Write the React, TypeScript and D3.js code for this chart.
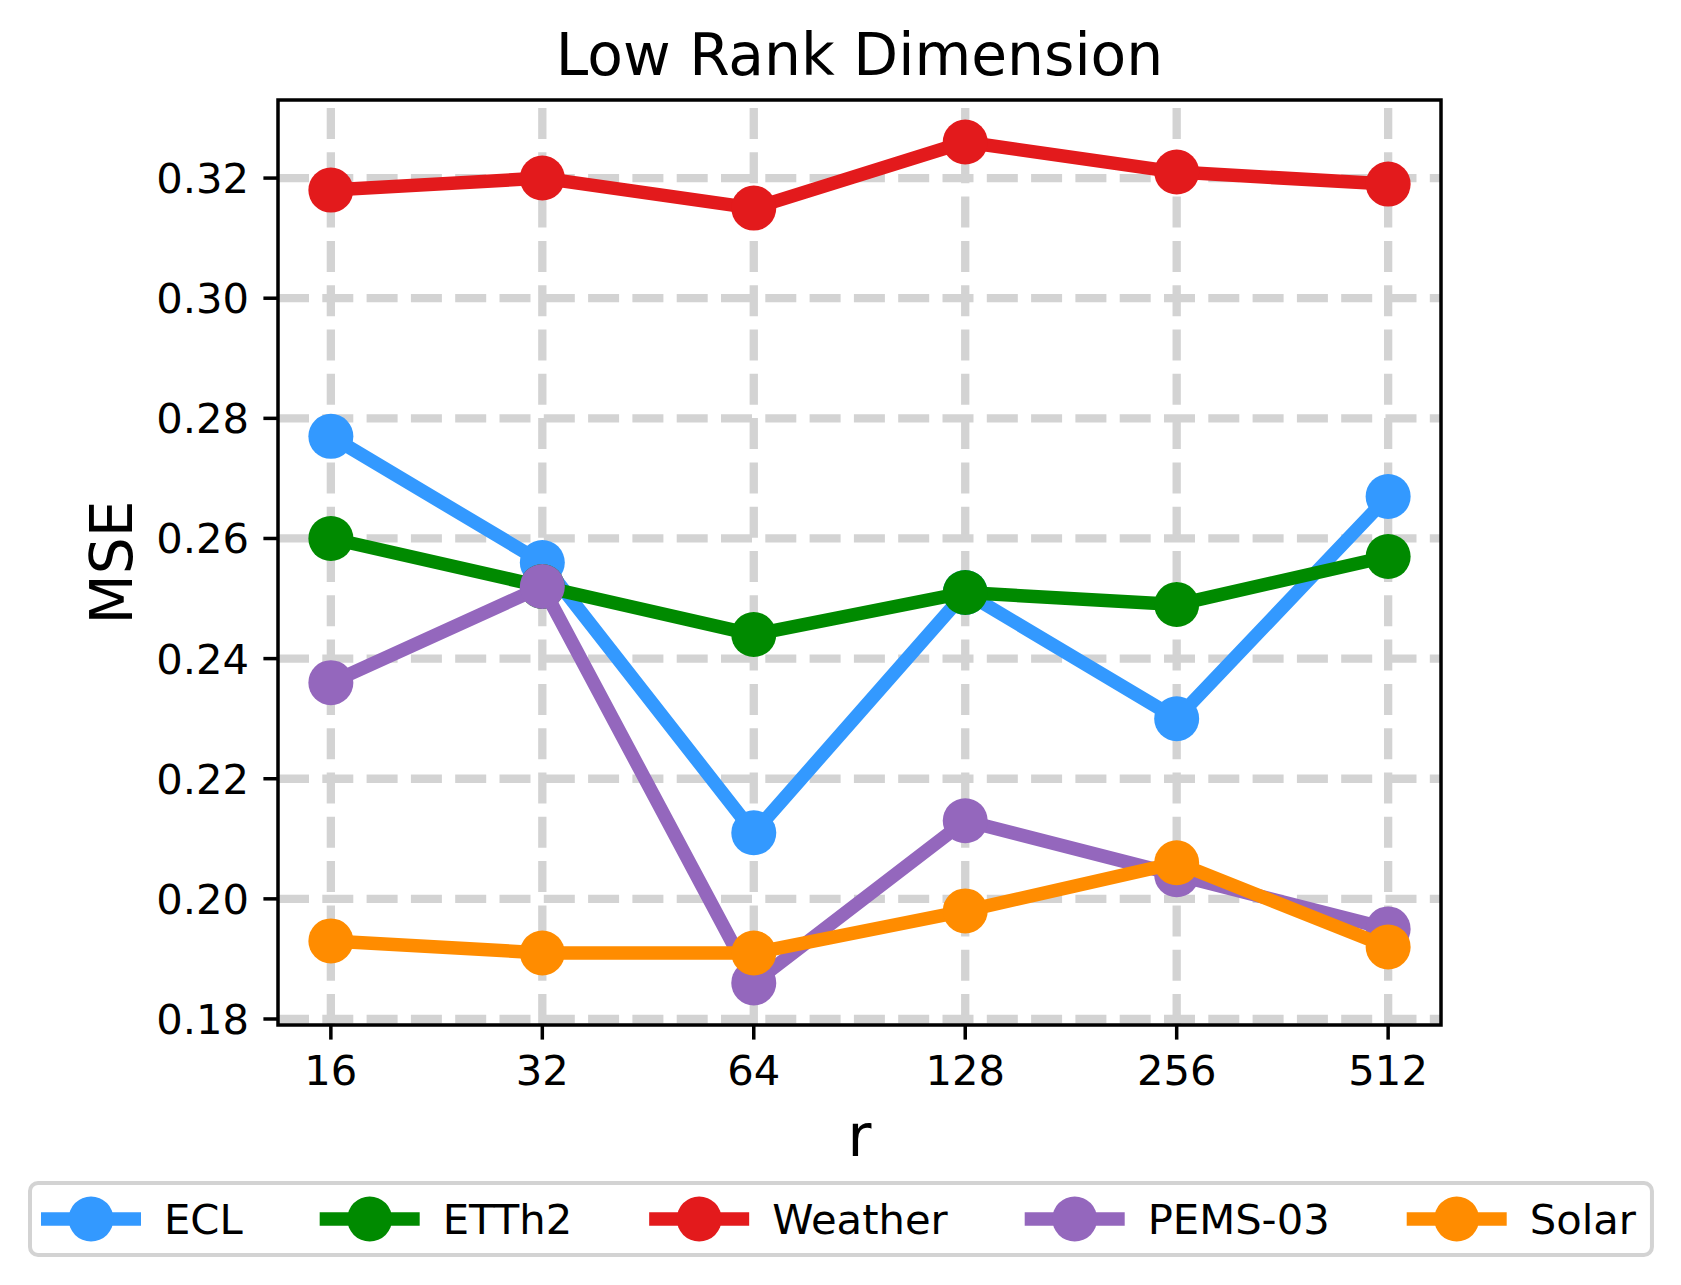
import { useRef, useEffect } from 'react';
import * as d3 from 'd3';

const W = 1681;
const H = 1285;

const rValues = ['16', '32', '64', '128', '256', '512'];
const yTicks = [0.18, 0.2, 0.22, 0.24, 0.26, 0.28, 0.3, 0.32];

const seriesNames = ['ECL', 'ETTh2', 'Weather', 'PEMS-03', 'Solar'];
const seriesColors = ['#3399ff', '#008a00', '#e31a1c', '#9467bd', '#ff8c00'];

const ecl = [0.277, 0.256, 0.211, 0.251, 0.23, 0.267];
const etth2 = [0.26, 0.252, 0.244, 0.251, 0.249, 0.257];
const weather = [0.318, 0.32, 0.315, 0.326, 0.321, 0.319];
const pems03 = [0.236, 0.252, 0.186, 0.213, 0.204, 0.195];
const solar = [0.193, 0.191, 0.191, 0.198, 0.206, 0.192];

const seriesValues = [ecl, etth2, weather, pems03, solar];

const FONT = 'DejaVu Sans, sans-serif';

export default function App() {
  const svgRef = useRef<SVGSVGElement>(null);

  useEffect(() => {
    if (!svgRef.current) return;
    const svg = d3.select(svgRef.current);
    svg.selectAll('*').remove();

    const left = 278;
    const right = 1441;
    const top = 100;
    const bottom = 1025;

    // matplotlib-style 5% margins
    const x = d3.scaleLinear().domain([-0.25, rValues.length - 1 + 0.25]).range([left, right]);
    const y = d3.scaleLinear().domain([0.179, 0.333]).range([bottom, top]);

    svg.append('rect').attr('width', W).attr('height', H).attr('fill', '#ffffff');

    // grid
    const grid = svg.append('g');
    rValues.forEach((_, i) => {
      grid.append('line')
        .attr('x1', x(i)).attr('x2', x(i))
        .attr('y1', bottom).attr('y2', top)
        .attr('stroke', '#d3d3d3').attr('stroke-width', 8.3)
        .attr('stroke-dasharray', '31,13.3');
    });
    yTicks.forEach((t) => {
      grid.append('line')
        .attr('x1', left).attr('x2', right)
        .attr('y1', y(t)).attr('y2', y(t))
        .attr('stroke', '#d3d3d3').attr('stroke-width', 8.3)
        .attr('stroke-dasharray', '31,13.3');
    });

    // series
    const line = d3.line<number>()
      .x((_, i) => x(i))
      .y((d) => y(d));

    const plot = svg.append('g');
    seriesValues.forEach((vals, s) => {
      const g = plot.append('g');
      g.append('path')
        .attr('d', line(vals))
        .attr('fill', 'none')
        .attr('stroke', seriesColors[s])
        .attr('stroke-width', 13.5)
        .attr('stroke-linejoin', 'round');
      g.selectAll('circle')
        .data(vals)
        .join('circle')
        .attr('cx', (_, i) => x(i))
        .attr('cy', (d) => y(d))
        .attr('r', 22.5)
        .attr('fill', seriesColors[s]);
    });

    // axes frame
    svg.append('rect')
      .attr('x', left).attr('y', top)
      .attr('width', right - left).attr('height', bottom - top)
      .attr('fill', 'none').attr('stroke', '#000').attr('stroke-width', 3.5);

    // ticks
    const ticks = svg.append('g').attr('font-family', FONT).attr('font-size', 41.7).attr('fill', '#000');
    rValues.forEach((lab, i) => {
      ticks.append('line')
        .attr('x1', x(i)).attr('x2', x(i))
        .attr('y1', bottom).attr('y2', bottom + 14.6)
        .attr('stroke', '#000').attr('stroke-width', 3.5);
      ticks.append('text')
        .attr('x', x(i)).attr('y', 1085)
        .attr('text-anchor', 'middle')
        .text(lab);
    });
    yTicks.forEach((t) => {
      ticks.append('line')
        .attr('x1', left - 14.6).attr('x2', left)
        .attr('y1', y(t)).attr('y2', y(t))
        .attr('stroke', '#000').attr('stroke-width', 3.5);
      ticks.append('text')
        .attr('x', left - 29).attr('y', y(t))
        .attr('dy', '0.36em')
        .attr('text-anchor', 'end')
        .text(d3.format('.2f')(t));
    });

    // title and labels
    svg.append('text')
      .attr('x', (left + right) / 2).attr('y', 75)
      .attr('text-anchor', 'middle')
      .attr('font-family', FONT).attr('font-size', 58.3)
      .text('Low Rank Dimension');

    svg.append('text')
      .attr('x', (left + right) / 2).attr('y', 1156)
      .attr('text-anchor', 'middle')
      .attr('font-family', FONT).attr('font-size', 58.3)
      .text('r');

    svg.append('text')
      .attr('transform', `translate(132,${(top + bottom) / 2}) rotate(-90)`)
      .attr('text-anchor', 'middle')
      .attr('font-family', FONT).attr('font-size', 58.3)
      .text('MSE');

    // legend
    const legTop = 1183;
    const legBottom = 1255;
    const legMid = (legTop + legBottom) / 2;
    const legendBox = svg.append('rect');
    const leg = svg.append('g').attr('font-family', FONT).attr('font-size', 41.7);
    let cx = 41;
    seriesNames.forEach((name, s) => {
      leg.append('line')
        .attr('x1', cx).attr('x2', cx + 100)
        .attr('y1', legMid).attr('y2', legMid)
        .attr('stroke', seriesColors[s]).attr('stroke-width', 13.5);
      leg.append('circle')
        .attr('cx', cx + 50).attr('cy', legMid).attr('r', 22.5)
        .attr('fill', seriesColors[s]);
      const txt = leg.append('text')
        .attr('x', cx + 123).attr('y', legMid)
        .attr('dy', '0.36em')
        .text(name);
      const w = (txt.node() as SVGTextElement).getComputedTextLength();
      cx = cx + 123 + w + (s < seriesNames.length - 1 ? 77 : 0);
    });
    legendBox
      .attr('x', 30).attr('y', legTop)
      .attr('width', cx + 16 - 30).attr('height', legBottom - legTop)
      .attr('rx', 8)
      .attr('fill', '#fff')
      .attr('stroke', '#d3d3d3').attr('stroke-width', 4);
  }, []);

  return (
    <>
      <style>{'body{margin:0}'}</style>
      <svg ref={svgRef} width={W} height={H} style={{ display: 'block' }} />
    </>
  );
}
